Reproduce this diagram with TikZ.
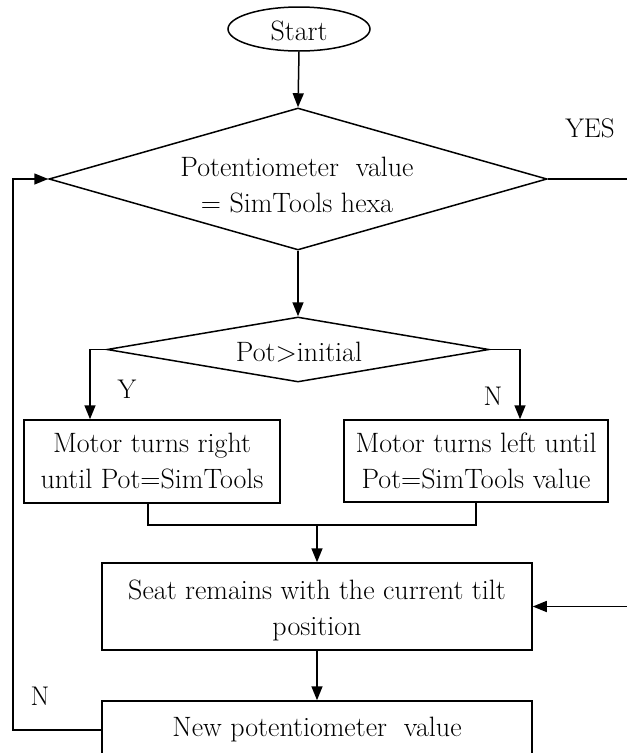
\documentclass[tikz,border=0pt]{standalone}
\usepackage{fontspec}
\usetikzlibrary{shapes.geometric,arrows.meta}
\tikzset{
  lnk/.style={line width=1.5pt},
  arr/.style={lnk,-{Triangle[length=14pt,width=11pt]}},
  boxnode/.style={draw,line width=1.5pt,rectangle,inner sep=0pt},
  dianode/.style={draw,line width=1.5pt,diamond,inner sep=0pt},
  txt/.style={align=center,font=\fontsize{28}{36}\selectfont,inner sep=0pt},
  lbl/.style={font=\fontsize{27}{30}\selectfont,inner sep=0pt}
}
\begin{document}
\begin{tikzpicture}[x=1pt,y=-1pt]
\useasboundingbox (0,0) rectangle (627,753);
\clip (0,0) rectangle (627,753);
\fill[white] (0,0) rectangle (627,753);
% nodes
\node[draw,line width=1.5pt,ellipse,minimum width=142pt,minimum height=44pt,inner sep=0pt] (start) at (299,29) {};
\node[txt] (startt) at (299,31) {Start};
\node[dianode,minimum width=498pt,minimum height=142pt] (d1) at (298,179) {};
\node[txt] (d1t) at (297,185) {Potentiometer\ \ value\\= SimTools hexa};
\node[dianode,minimum width=382pt,minimum height=65pt] (d2) at (298,349.5) {};
\node[txt] (d2t) at (299,352) {Pot>initial};
\node[boxnode,minimum width=256pt,minimum height=83pt] (b1) at (152,461.5) {};
\node[txt] (b1t) at (152,461) {Motor turns right\\until Pot=SimTools};
\node[boxnode,minimum width=264pt,minimum height=82pt] (b2) at (476,461) {};
\node[txt] (b2t) at (476,461) {Motor turns left until\\Pot=SimTools value};
\node[boxnode,minimum width=430pt,minimum height=87pt] (b3) at (317,606.5) {};
\node[txt] (b3t) at (317,610) {Seat remains with the current tilt\\position};
\node[boxnode,minimum width=430pt,minimum height=58pt] (b4) at (317,730) {};
\node[txt] (b4t) at (317,730) {New potentiometer\ \ value};
% labels
\node[lbl] (yes) at (590,128) {YES};
\node[lbl] (ylab) at (127,389) {Y};
\node[lbl] (nlab) at (493,396) {N};
\node[lbl] (nlab2) at (40,696) {N};
% coordinates
\coordinate (yesend) at (627,179);
\coordinate (yl) at (90,349.5);
\coordinate (nr) at (520,349.5);
\coordinate (m1) at (148,525);
\coordinate (m2) at (476,525);
\coordinate (mj) at (317,525);
\coordinate (rin) at (627,606.5);
\coordinate (lp1) at (13,730);
\coordinate (lp2) at (13,179);
% connectors
\draw[arr] (start.south) -- (d1.north);
\draw[lnk] (d1.east) -- (yesend);
\draw[arr] (d1.south) -- (d2.north);
\draw[arr] (d2.west) -- (yl) -- (yl |- b1.north);
\draw[arr] (d2.east) -- (nr) -- (nr |- b2.north);
\draw[lnk] (m1 |- b1.south) -- (m1) -- (m2) -- (b2.south);
\draw[arr] (mj) -- (b3.north);
\draw[arr] (rin) -- (b3.east);
\draw[arr] (b3.south) -- (b4.north);
\draw[arr] (b4.west) -- (lp1) -- (lp2) -- (d1.west);
\end{tikzpicture}
\end{document}
